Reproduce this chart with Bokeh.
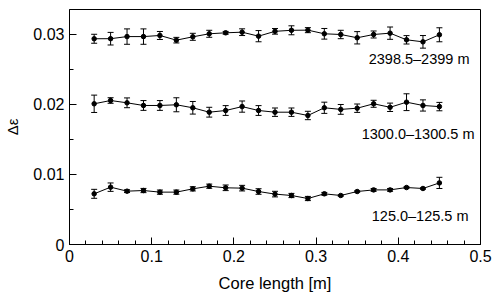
from bokeh.plotting import figure
from bokeh.models import ColumnDataSource, Whisker, TeeHead, FixedTicker, Label, Range1d
from bokeh.embed import file_html
from bokeh.resources import INLINE

# ---- data ----
core_length = [0.03, 0.05, 0.07, 0.09, 0.11, 0.13, 0.15, 0.17, 0.19, 0.21, 0.23,
               0.25, 0.27, 0.29, 0.31, 0.33, 0.35, 0.37, 0.39, 0.41, 0.43, 0.45]

deep_mean = [0.02939, 0.02940, 0.02970, 0.02970, 0.02986, 0.02919, 0.02967, 0.03010,
             0.03024, 0.03033, 0.02976, 0.03045, 0.03060, 0.03062, 0.03010, 0.03000,
             0.02953, 0.03000, 0.03019, 0.02924, 0.02895, 0.02996]
deep_err = [0.00064, 0.00090, 0.00110, 0.00110, 0.00057, 0.00040, 0.00050, 0.00050,
            0.00020, 0.00048, 0.00080, 0.00040, 0.00064, 0.00036, 0.00076, 0.00060,
            0.00088, 0.00050, 0.00088, 0.00060, 0.00090, 0.00100]

mid_mean = [0.02010, 0.02057, 0.02024, 0.01986, 0.01986, 0.01996, 0.01953, 0.01890,
            0.01914, 0.01970, 0.01914, 0.01890, 0.01890, 0.01843, 0.01953, 0.01930,
            0.01947, 0.02010, 0.01960, 0.02033, 0.01986, 0.01970]
mid_err = [0.00124, 0.00040, 0.00070, 0.00070, 0.00070, 0.00100, 0.00090, 0.00070,
           0.00070, 0.00080, 0.00070, 0.00060, 0.00060, 0.00060, 0.00080, 0.00070,
           0.00060, 0.00050, 0.00060, 0.00120, 0.00080, 0.00060]

shallow_mean = [0.00724, 0.00819, 0.00762, 0.00771, 0.00748, 0.00748, 0.00795, 0.00833,
                0.00810, 0.00805, 0.00757, 0.00720, 0.00700, 0.00657, 0.00724, 0.00700,
                0.00757, 0.00780, 0.00780, 0.00814, 0.00800, 0.00880]
shallow_err = [0.00064, 0.00060, 0.00020, 0.00030, 0.00030, 0.00030, 0.00030, 0.00030,
               0.00040, 0.00040, 0.00040, 0.00040, 0.00030, 0.00030, 0.00020, 0.00010,
               0.00010, 0.00020, 0.00020, 0.00010, 0.00010, 0.00080]

series_labels = ["2398.5\u20132399 m", "1300.0\u20131300.5 m", "125.0\u2013125.5 m"]

x_ticks = [0, 0.1, 0.2, 0.3, 0.4, 0.5]
x_tick_labels = ["0", "0.1", "0.2", "0.3", "0.4", "0.5"]
y_ticks = [0, 0.01, 0.02, 0.03]
y_tick_labels = ["0", "0.01", "0.02", "0.03"]

FONT = "Liberation Sans"

p = figure(width=496, height=300, output_backend="svg", toolbar_location=None,
           x_range=Range1d(0, 0.5), y_range=Range1d(0, 0.03357),
           min_border_left=69, min_border_right=16, min_border_top=9, min_border_bottom=56)
p.xgrid.visible = False
p.ygrid.visible = False
p.outline_line_color = "black"
p.outline_line_width = 1
p.outline_line_alpha = 1
p.background_fill_color = "white"
p.border_fill_color = "white"

for mean, err in [(deep_mean, deep_err), (mid_mean, mid_err), (shallow_mean, shallow_err)]:
    src = ColumnDataSource(dict(
        x=core_length, y=mean,
        lower=[m - e for m, e in zip(mean, err)],
        upper=[m + e for m, e in zip(mean, err)]))
    w = Whisker(source=src, base="x", lower="lower", upper="upper",
                line_color="black", line_width=1,
                upper_head=TeeHead(size=6, line_color="black", line_width=1),
                lower_head=TeeHead(size=6, line_color="black", line_width=1))
    p.add_layout(w)
    p.line("x", "y", source=src, line_color="black", line_width=1)
    p.scatter("x", "y", source=src, size=4.5, color="black")

label_pos = [(0.4866, 0.02653), (0.4927, 0.01581), (0.4854, 0.00414)]
for txt, (lx, ly) in zip(series_labels, label_pos):
    p.add_layout(Label(x=lx, y=ly, text=txt, text_align="right", text_baseline="alphabetic",
                       text_font=FONT, text_font_size="14.5px", text_color="black"))

p.xaxis.ticker = FixedTicker(ticks=x_ticks, minor_ticks=[i * 0.02 for i in range(26)])
p.xaxis.major_label_overrides = {t: s for t, s in zip(x_ticks, x_tick_labels)}
p.yaxis.ticker = FixedTicker(ticks=y_ticks, minor_ticks=[i * 0.005 for i in range(7)])
p.yaxis.major_label_overrides = {t: s for t, s in zip(y_ticks, y_tick_labels)}

p.xaxis.axis_label = "Core length [m]"
p.yaxis.axis_label = "\u0394\u03b5"

for ax in (p.xaxis[0], p.yaxis[0]):
    ax.axis_line_color = "black"
    ax.major_tick_line_color = "black"
    ax.minor_tick_line_color = "black"
    ax.major_tick_in = 7
    ax.major_tick_out = 0
    ax.minor_tick_in = 4
    ax.minor_tick_out = 0
    ax.major_label_text_font = FONT
    ax.major_label_text_font_size = "16px"
    ax.major_label_text_color = "black"
    ax.axis_label_text_font = FONT
    ax.axis_label_text_font_size = "16.5px"
    ax.axis_label_text_font_style = "normal"
    ax.axis_label_text_color = "black"

p.yaxis.axis_label_text_font_size = "15px"
p.xaxis.major_label_standoff = 5
p.xaxis.axis_label_standoff = 9
p.yaxis.major_label_standoff = 5
p.yaxis.axis_label_standoff = 9

open("out.html", "w").write(file_html(p, INLINE))
